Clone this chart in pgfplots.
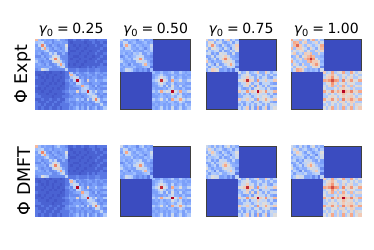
\documentclass[border=0pt]{standalone}
\usepackage{pgfplots}
\usepackage{pgfplotstable}
\usepackage{fontspec}
\setmainfont{DejaVu Sans}
\pgfplotsset{compat=1.18}
\pgfplotstableset{row sep=\\,col sep=comma,header=false}
\pgfplotstableread{
13\\6\\4\\5\\4\\4\\3\\5\\7\\4\\4\\3\\
6\\7\\8\\4\\4\\5\\3\\4\\4\\5\\4\\4\\
4\\8\\16\\9\\4\\3\\5\\4\\3\\4\\4\\10\\
5\\4\\9\\14\\6\\4\\3\\5\\4\\3\\4\\8\\
4\\4\\4\\6\\8\\4\\4\\3\\4\\5\\4\\7\\
4\\5\\3\\4\\4\\8\\5\\8\\3\\3\\5\\3\\
3\\3\\5\\3\\4\\5\\9\\10\\8\\3\\3\\3\\
5\\4\\4\\5\\3\\8\\10\\16\\10\\4\\3\\3\\
7\\4\\3\\4\\4\\3\\8\\10\\11\\8\\4\\3\\
4\\5\\4\\3\\5\\3\\3\\4\\8\\14\\7\\3\\
4\\4\\4\\4\\4\\5\\3\\3\\4\\7\\9\\3\\
3\\4\\10\\8\\7\\3\\3\\3\\3\\3\\3\\8\\}\Aa
\pgfplotstableread{
14\\7\\3\\5\\3\\3\\4\\5\\3\\3\\5\\4\\3\\4\\
7\\13\\7\\3\\4\\3\\3\\4\\4\\3\\4\\3\\4\\3\\
3\\7\\9\\8\\3\\4\\3\\4\\3\\4\\4\\3\\3\\4\\
5\\3\\8\\20\\8\\5\\3\\11\\4\\4\\7\\4\\4\\6\\
3\\4\\3\\8\\8\\5\\4\\4\\3\\4\\4\\4\\3\\3\\
3\\3\\4\\5\\5\\14\\7\\7\\4\\3\\6\\3\\4\\5\\
4\\3\\3\\3\\4\\7\\8\\7\\4\\4\\3\\4\\3\\3\\
5\\4\\4\\11\\4\\7\\7\\19\\8\\5\\9\\4\\4\\7\\
3\\4\\3\\4\\3\\4\\4\\8\\8\\7\\4\\3\\4\\3\\
3\\3\\4\\4\\4\\3\\4\\5\\7\\9\\9\\4\\3\\4\\
5\\4\\4\\7\\4\\6\\3\\9\\4\\9\\16\\9\\4\\6\\
4\\3\\3\\4\\4\\3\\4\\4\\3\\4\\9\\8\\4\\3\\
3\\4\\3\\4\\3\\4\\3\\4\\4\\3\\4\\4\\8\\4\\
4\\3\\4\\6\\3\\5\\3\\7\\3\\4\\6\\3\\4\\7\\}\Ba
\pgfplotstableread{
1\\1\\2\\1\\1\\2\\1\\1\\2\\2\\1\\2\\2\\2\\
1\\0.5\\1\\1\\1\\1\\0.5\\1\\1\\2\\1\\1\\2\\1\\
1\\1\\0.5\\1\\0.5\\1\\1\\0.5\\1\\1\\2\\1\\1\\2\\
0.5\\1\\1\\0.5\\1\\1\\0.5\\1\\1\\1\\1\\1\\2\\1\\
1\\0.5\\0.5\\1\\1\\0.5\\1\\1\\0.5\\1\\1\\2\\1\\1\\
0.5\\1\\1\\1\\0.5\\1\\1\\0.5\\1\\1\\2\\1\\1\\2\\
1\\1\\0.5\\0.5\\1\\1\\0.5\\1\\1\\0.5\\1\\1\\2\\1\\
1\\0.5\\1\\1\\0.5\\1\\1\\1\\0.5\\1\\1\\2\\1\\1\\
1\\1\\1\\0.5\\1\\1\\0.5\\1\\1\\1\\2\\1\\1\\2\\
0.5\\1\\0.5\\1\\1\\0.5\\1\\1\\1\\1\\1\\1\\2\\1\\
1\\1\\1\\1\\0.5\\1\\1\\2\\1\\2\\1\\2\\2\\2\\
2\\2\\2\\3\\2\\2\\2\\3\\2\\2\\3\\3\\2\\2\\}\ABa
\pgfplotstableread{
1\\1\\1\\0.5\\1\\0.5\\1\\1\\1\\0.5\\1\\2\\
1\\0.5\\1\\1\\0.5\\1\\1\\0.5\\1\\1\\1\\2\\
2\\1\\0.5\\1\\0.5\\1\\0.5\\1\\1\\0.5\\1\\2\\
1\\1\\1\\0.5\\1\\1\\0.5\\1\\0.5\\1\\1\\3\\
1\\1\\0.5\\1\\1\\0.5\\1\\0.5\\1\\1\\0.5\\2\\
2\\1\\1\\1\\0.5\\1\\1\\1\\1\\0.5\\1\\2\\
1\\0.5\\1\\0.5\\1\\1\\0.5\\1\\0.5\\1\\1\\2\\
1\\1\\0.5\\1\\1\\0.5\\1\\1\\1\\1\\2\\3\\
2\\1\\1\\1\\0.5\\1\\1\\0.5\\1\\1\\1\\2\\
2\\2\\1\\1\\1\\1\\0.5\\1\\1\\1\\2\\2\\
1\\1\\2\\1\\1\\2\\1\\1\\2\\1\\1\\3\\
2\\1\\1\\1\\2\\1\\1\\2\\1\\1\\2\\3\\
2\\2\\1\\2\\1\\1\\2\\1\\1\\2\\2\\2\\
2\\1\\2\\1\\1\\2\\1\\1\\2\\1\\2\\2\\}\BAa
\pgfplotstableread{
9\\5\\4\\6\\5\\5\\3\\6\\8\\4\\5\\4\\
5\\9\\8\\4\\5\\6\\4\\4\\5\\6\\4\\5\\
4\\8\\14\\8\\5\\4\\6\\5\\4\\5\\5\\9\\
6\\4\\8\\8\\5\\5\\4\\6\\5\\3\\5\\8\\
5\\5\\5\\5\\7\\4\\5\\4\\4\\6\\5\\7\\
5\\6\\4\\5\\4\\7\\6\\8\\4\\4\\6\\4\\
3\\4\\6\\4\\5\\6\\8\\9\\8\\4\\4\\3\\
6\\4\\5\\6\\4\\8\\9\\15\\9\\5\\4\\4\\
8\\5\\4\\5\\4\\4\\8\\9\\8\\8\\5\\3\\
4\\6\\5\\3\\6\\4\\4\\5\\8\\13\\6\\4\\
5\\4\\5\\5\\5\\6\\4\\4\\5\\6\\7\\2\\
4\\5\\9\\8\\7\\4\\3\\4\\3\\4\\2\\6\\}\Ab
\pgfplotstableread{
6\\4\\4\\6\\4\\4\\5\\7\\4\\4\\7\\5\\4\\5\\
4\\5\\6\\8\\5\\4\\4\\5\\5\\4\\5\\4\\5\\4\\
4\\6\\8\\10\\8\\6\\4\\8\\4\\5\\6\\4\\4\\5\\
6\\8\\10\\19\\10\\8\\4\\14\\6\\6\\10\\5\\5\\8\\
4\\5\\8\\10\\7\\4\\5\\8\\4\\5\\5\\5\\4\\4\\
4\\4\\6\\8\\4\\9\\4\\10\\5\\4\\8\\4\\5\\6\\
5\\4\\4\\4\\5\\4\\7\\9\\5\\5\\4\\6\\4\\4\\
7\\5\\8\\14\\8\\10\\9\\20\\10\\7\\14\\6\\6\\9\\
4\\5\\4\\6\\4\\5\\5\\10\\7\\5\\8\\4\\5\\4\\
4\\4\\5\\6\\5\\4\\5\\7\\5\\8\\9\\5\\4\\5\\
7\\5\\6\\10\\5\\8\\4\\14\\8\\9\\14\\9\\6\\8\\
5\\4\\4\\5\\5\\4\\6\\6\\4\\5\\9\\6\\4\\4\\
4\\5\\4\\5\\4\\5\\4\\6\\5\\4\\6\\4\\7\\5\\
5\\4\\5\\8\\4\\6\\4\\9\\4\\5\\8\\4\\5\\7\\}\Bb
\pgfplotstableread{
11\\6\\6\\10\\5\\8\\4\\9\\12\\5\\8\\5\\
6\\11\\10\\5\\8\\9\\5\\4\\6\\9\\4\\8\\
6\\10\\15\\10\\6\\4\\9\\6\\4\\6\\8\\12\\
10\\5\\10\\10\\8\\6\\4\\9\\6\\3\\8\\11\\
5\\8\\6\\8\\9\\4\\8\\4\\5\\9\\6\\10\\
8\\9\\4\\6\\4\\10\\9\\9\\5\\4\\9\\4\\
4\\5\\9\\4\\8\\9\\10\\12\\9\\5\\5\\4\\
9\\4\\6\\9\\4\\9\\12\\16\\11\\8\\5\\5\\
12\\6\\4\\6\\5\\5\\9\\11\\10\\10\\8\\3\\
5\\9\\6\\3\\9\\4\\5\\8\\10\\14\\9\\5\\
8\\4\\8\\8\\6\\9\\5\\5\\8\\9\\8\\2\\
5\\8\\12\\11\\10\\4\\4\\5\\3\\5\\2\\7\\}\Ac
\pgfplotstableread{
9\\5\\6\\10\\5\\6\\8\\12\\5\\5\\12\\8\\5\\8\\
5\\8\\9\\10\\8\\5\\5\\8\\8\\5\\8\\5\\8\\5\\
6\\9\\9\\12\\8\\9\\5\\9\\5\\8\\9\\5\\4\\8\\
10\\10\\12\\19\\12\\11\\5\\15\\8\\9\\12\\8\\8\\12\\
5\\8\\8\\12\\9\\5\\8\\9\\4\\8\\8\\8\\5\\4\\
6\\5\\9\\11\\5\\11\\4\\12\\8\\5\\10\\5\\8\\9\\
8\\5\\4\\5\\8\\4\\9\\10\\8\\8\\5\\9\\5\\4\\
12\\8\\9\\15\\9\\12\\10\\20\\12\\10\\15\\9\\9\\13\\
5\\8\\5\\8\\4\\8\\8\\12\\9\\8\\9\\5\\8\\4\\
5\\5\\8\\9\\8\\5\\8\\10\\8\\10\\10\\8\\5\\8\\
12\\8\\9\\12\\8\\10\\5\\15\\9\\10\\14\\10\\9\\12\\
8\\5\\5\\8\\8\\5\\9\\9\\5\\8\\10\\9\\5\\4\\
5\\8\\4\\8\\5\\8\\5\\9\\8\\5\\9\\5\\9\\8\\
8\\5\\8\\12\\4\\9\\4\\13\\4\\8\\12\\4\\8\\10\\}\Bc
\pgfplotstableread{
14\\9\\8\\13\\7\\10\\5\\11\\14\\6\\10\\6\\
9\\14\\13\\6\\10\\12\\6\\6\\8\\11\\6\\9\\
8\\13\\17\\12\\8\\6\\11\\8\\6\\8\\10\\14\\
13\\6\\12\\12\\10\\8\\5\\11\\8\\5\\10\\13\\
7\\10\\8\\10\\11\\6\\10\\6\\6\\11\\8\\11\\
10\\12\\6\\8\\6\\12\\11\\13\\6\\6\\11\\6\\
5\\6\\11\\5\\10\\11\\13\\15\\13\\6\\6\\5\\
11\\6\\8\\11\\6\\13\\15\\19\\15\\10\\6\\6\\
14\\8\\6\\8\\6\\6\\13\\15\\12\\12\\10\\5\\
6\\11\\8\\5\\11\\6\\6\\10\\12\\15\\11\\6\\
10\\6\\10\\10\\8\\11\\6\\6\\10\\11\\10\\3\\
6\\9\\14\\13\\11\\6\\5\\6\\5\\6\\3\\9\\}\Ad
\pgfplotstableread{
12\\7\\8\\14\\7\\9\\10\\14\\7\\7\\14\\10\\7\\10\\
7\\10\\11\\13\\10\\7\\7\\10\\10\\7\\10\\7\\10\\7\\
8\\11\\12\\15\\10\\11\\7\\11\\7\\10\\11\\7\\7\\10\\
14\\13\\15\\18\\15\\14\\7\\16\\10\\11\\15\\10\\10\\14\\
7\\10\\10\\15\\11\\7\\10\\11\\7\\10\\10\\10\\7\\7\\
9\\7\\11\\14\\7\\12\\7\\14\\10\\7\\13\\7\\10\\11\\
10\\7\\7\\7\\10\\7\\11\\12\\10\\10\\7\\11\\7\\7\\
14\\10\\11\\16\\11\\14\\12\\20\\13\\12\\16\\11\\11\\14\\
7\\10\\7\\10\\7\\10\\10\\13\\11\\10\\11\\7\\10\\7\\
7\\7\\10\\11\\10\\7\\10\\12\\10\\11\\12\\10\\7\\10\\
14\\10\\11\\15\\10\\13\\7\\16\\11\\12\\15\\12\\11\\14\\
10\\7\\7\\10\\10\\7\\11\\11\\7\\10\\12\\11\\7\\7\\
7\\10\\7\\10\\7\\10\\7\\11\\10\\7\\11\\7\\11\\10\\
10\\7\\10\\14\\7\\11\\7\\14\\7\\10\\14\\7\\10\\12\\}\Bd
\pgfplotstableread{
9\\7\\5\\9\\5\\7\\4\\8\\10\\5\\7\\5\\
7\\11\\8\\5\\7\\8\\5\\4\\6\\8\\4\\7\\
5\\8\\12\\9\\6\\4\\8\\6\\4\\6\\7\\10\\
9\\5\\9\\9\\7\\6\\4\\8\\6\\3\\7\\9\\
5\\7\\6\\7\\8\\4\\7\\4\\5\\8\\6\\9\\
7\\8\\4\\6\\4\\9\\8\\8\\5\\4\\8\\4\\
4\\5\\8\\4\\7\\8\\9\\11\\8\\5\\5\\4\\
8\\4\\6\\8\\4\\8\\11\\14\\10\\7\\5\\5\\
10\\6\\4\\6\\5\\5\\8\\10\\9\\9\\7\\3\\
5\\8\\6\\3\\8\\4\\5\\7\\9\\12\\8\\5\\
7\\4\\7\\7\\6\\8\\5\\5\\7\\8\\8\\2\\
5\\7\\10\\9\\9\\4\\4\\5\\3\\5\\2\\8\\}\Ah
\pgfplotsset{
  pan/.style={width=70pt,height=70pt,scale only axis,anchor=south west,
    xmin=-0.5,xmax=25.5,ymin=-0.5,ymax=25.5,y dir=reverse,xtick=\empty,ytick=\empty,
    colormap={cw}{rgb255=(59,76,192) rgb255=(90,120,228) rgb255=(123,159,249) rgb255=(158,190,255)
      rgb255=(192,212,245) rgb255=(221,220,220) rgb255=(242,203,183) rgb255=(247,168,137)
      rgb255=(238,132,104) rgb255=(212,78,65) rgb255=(180,4,38)},
    point meta min=0,point meta max=20,axis on top,
    axis line style={draw=black!75,line width=0.8pt},
    axis background/.style={fill={rgb,255:red,59;green,76;blue,192}},
    title style={font=\fontsize{14}{15}\selectfont,yshift=-7pt},
    ylabel style={font=\fontsize{17.5}{18}\selectfont,yshift=1.5pt}},
}
\newcommand\blk[4]{\addplot[scatter,only marks,scatter src=explicit,mark=square*,mark size=1.35pt,
    scatter/use mapped color={draw=mapped color,fill=mapped color},line width=0pt,forget plot]
  table[x index=0,y index=0,x expr={#3+mod(\coordindex,#2)},y expr={#4+floor((\coordindex+0.5)/#2)},meta index=0]{#1};}
\newcommand\ttl[1]{{\itshape γ}\textsubscript{0}\hspace{0.25em}=\hspace{0.25em}#1}
\begin{document}
\begin{tikzpicture}
\path[use as bounding box] (0,0) rectangle (374pt,249pt);
\begin{axis}[pan,at={(36pt,139.7pt)},title={\ttl{0.25}},ylabel={Φ Expt}]
\blk{\Aa}{12}{0}{0}\blk{\Ba}{14}{12}{12}\blk{\ABa}{14}{12}{0}\blk{\BAa}{12}{0}{12}
\end{axis}
\begin{axis}[pan,at={(120.5pt,139.7pt)},title={\ttl{0.50}}]
\blk{\Ab}{12}{0}{0}\blk{\Bb}{14}{12}{12}
\end{axis}
\begin{axis}[pan,at={(206pt,139.7pt)},title={\ttl{0.75}}]
\blk{\Ac}{12}{0}{0}\blk{\Bc}{14}{12}{12}
\end{axis}
\begin{axis}[pan,at={(291.3pt,139.7pt)},title={\ttl{1.00}}]
\blk{\Ad}{12}{0}{0}\blk{\Bd}{14}{12}{12}
\end{axis}
\begin{axis}[pan,at={(36pt,33pt)},ylabel={Φ DMFT}]
\blk{\Aa}{12}{0}{0}\blk{\Ba}{14}{12}{12}\blk{\ABa}{14}{12}{0}\blk{\BAa}{12}{0}{12}
\end{axis}
\begin{axis}[pan,at={(120.5pt,33pt)}]
\blk{\Ab}{12}{0}{0}\blk{\Bb}{14}{12}{12}
\end{axis}
\begin{axis}[pan,at={(206pt,33pt)}]
\blk{\Ah}{12}{0}{0}\blk{\Bc}{14}{12}{12}
\end{axis}
\begin{axis}[pan,at={(291.3pt,33pt)}]
\blk{\Ah}{12}{0}{0}\blk{\Bd}{14}{12}{12}
\end{axis}
\end{tikzpicture}
\end{document}
